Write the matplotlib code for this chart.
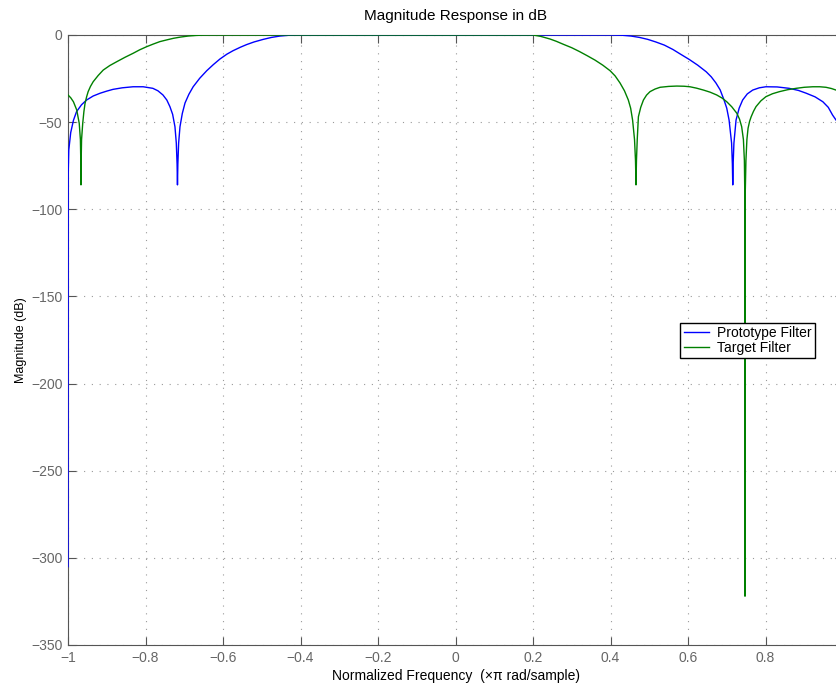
import matplotlib
matplotlib.use("Agg")
import matplotlib.pyplot as plt

# values (normalized frequency, dB)
proto_x = [-1.000, -0.9995, -0.998, -0.993, -0.986, -0.978, -0.965, -0.952, -0.935,
           -0.917, -0.900, -0.884, -0.860, -0.832, -0.806, -0.781, -0.768, -0.755,
           -0.745, -0.737, -0.730, -0.724, -0.7205, -0.7185, -0.7175, -0.7165, -0.7145,
           -0.711, -0.705, -0.698, -0.688, -0.677, -0.660, -0.642, -0.625, -0.608,
           -0.590, -0.574, -0.555, -0.539, -0.520, -0.496, -0.475, -0.453, -0.430,
           -0.410, 0.400, 0.430, 0.453, 0.475, 0.496, 0.517, 0.539, 0.561, 0.580,
           0.603, 0.625, 0.647, 0.660, 0.672, 0.683, 0.693, 0.700, 0.706, 0.7125,
           0.7145, 0.7155, 0.7165, 0.7185, 0.724, 0.732, 0.741, 0.753, 0.767, 0.784,
           0.801, 0.830, 0.861, 0.885, 0.905, 0.928, 0.948, 0.962, 0.973, 0.982]
proto_db = [-305, -80, -66, -56, -49, -44, -40, -37.3, -35,
            -33.4, -32.2, -31.2, -30.3, -29.7, -29.7, -30.6, -32, -34.4,
            -37.3, -41.1, -45.5, -52.6, -62, -74, -86, -74, -62,
            -52.6, -45, -39.0, -34, -29.7, -24.8, -20.5, -17, -13.8,
            -11.0, -9.0, -7.0, -5.5, -4.0, -2.5, -1.4, -0.6, -0.15,
            0.0, 0.0, -0.15, -0.6, -1.4, -2.5, -4.0, -5.8, -8.3, -10.9,
            -14.0, -17.3, -21.1, -24, -27.5, -31.5, -37.3, -42, -48.8, -62,
            -74, -86, -74, -62, -48.8, -42, -37.3, -33.8, -31.6, -30.3,
            -29.7, -29.8, -30.6, -31.8, -33.4, -35.5, -38.3, -41.5, -45.9, -48.8]

target_x = [-1.000, -0.993, -0.986, -0.9775, -0.971, -0.968, -0.967, -0.9665, -0.966,
            -0.965, -0.962, -0.959, -0.956, -0.952, -0.948, -0.942, -0.935, -0.922,
            -0.909, -0.892, -0.874, -0.853, -0.832, -0.815, -0.797, -0.780, -0.763,
            -0.745, -0.728, -0.710, -0.690, -0.670, -0.650, -0.630, 0.200, 0.220,
            0.244, 0.260, 0.278, 0.300, 0.320, 0.340, 0.360, 0.380, 0.399, 0.412,
            0.4245, 0.436, 0.446, 0.452, 0.457, 0.462, 0.4645, 0.4658, 0.467, 0.469,
            0.472, 0.478, 0.485, 0.493, 0.502, 0.515, 0.528, 0.550, 0.571, 0.590,
            0.605, 0.622, 0.640, 0.657, 0.674, 0.688, 0.700, 0.713, 0.726, 0.733,
            0.7385, 0.743, 0.7455, 0.7465, 0.7471, 0.7478, 0.7495, 0.752, 0.755, 0.759,
            0.763, 0.769, 0.7755, 0.788, 0.801, 0.818, 0.836, 0.857, 0.879, 0.900,
            0.922, 0.940, 0.956, 0.970, 0.982]
target_db = [-34.4, -36, -38.3, -43.0, -50.7, -60, -72, -86, -72,
             -60, -50.7, -44, -39.2, -35.5, -32.5, -29.5, -26.8, -23.2,
             -20.1, -17.5, -15.3, -12.8, -10.5, -8.5, -6.7, -5.2, -3.8,
             -2.8, -1.9, -1.2, -0.6, -0.25, -0.05, 0.0, 0.0, -0.8,
             -2.3, -3.6, -5.3, -7.3, -9.5, -11.9, -14.4, -17.3, -20.5, -23.5,
             -27.5, -32, -37.3, -42, -48.8, -60, -72, -86, -72, -60,
             -46.9, -41.5, -37.3, -34.5, -32.5, -31, -30.0, -29.5, -29.3, -29.4,
             -29.7, -30.5, -31.6, -32.8, -34.4, -36.2, -38.3, -41.2, -44.9, -48.3,
             -52.6, -60, -72, -90, -322, -90, -72, -60, -53.5, -49.5,
             -46.9, -43.8, -41.1, -37.8, -35.4, -33.7, -32.5, -31.4, -30.6, -30.0,
             -29.7, -29.7, -30.0, -30.7, -31.6]

xticks = [-1, -0.8, -0.6, -0.4, -0.2, 0, 0.2, 0.4, 0.6, 0.8]
xticklabels = ["\u22121", "\u22120.8", "\u22120.6", "\u22120.4", "\u22120.2", "0",
               "0.2", "0.4", "0.6", "0.8"]
yticks = [0, -50, -100, -150, -200, -250, -300, -350]
yticklabels = ["0", "\u221250", "\u2212100", "\u2212150", "\u2212200", "\u2212250",
               "\u2212300", "\u2212350"]

plt.rcParams["font.family"] = ["Liberation Sans", "DejaVu Sans"]

fig = plt.figure(figsize=(8.36, 6.85), dpi=100)
ax = fig.add_axes([68 / 836, 40 / 685, 775 / 836, 610 / 685])

ax.plot(proto_x, proto_db, color="#0000ff", lw=1.0, label="Prototype Filter", zorder=3)
ax.plot(target_x, target_db, color="#008000", lw=1.0, label="Target Filter", zorder=3)

ax.set_xlim(-1, 1)
ax.set_ylim(-350, 0)
ax.set_xticks(xticks)
ax.set_xticklabels(xticklabels)
ax.set_yticks(yticks)
ax.set_yticklabels(yticklabels)

ax.grid(True, color="#9a9a9a", linestyle=(0, (1, 6)), lw=0.8)
ax.tick_params(direction="in", length=6, width=0.8, colors="#555555",
               labelcolor="#666666", labelsize=10, top=True, right=True, pad=4)
for s in ax.spines.values():
    s.set_color("#555555")
    s.set_linewidth(0.8)

ax.set_title("Magnitude Response in dB", fontsize=11, pad=11)
ax.set_xlabel("Normalized Frequency  (\u00d7\u03c0 rad/sample)", fontsize=10, labelpad=3)
ax.set_ylabel("Magnitude (dB)", fontsize=9, labelpad=3)

leg = ax.legend(loc="upper right", bbox_to_anchor=(0.9638, 0.5284), fontsize=10,
                fancybox=False, framealpha=1, edgecolor="black", borderpad=0.25,
                handlelength=1.8, handletextpad=0.6, labelspacing=0.05,
                borderaxespad=0)
leg.get_frame().set_linewidth(1.0)
leg.set_zorder(5)

fig.savefig("out.png", dpi=100)
